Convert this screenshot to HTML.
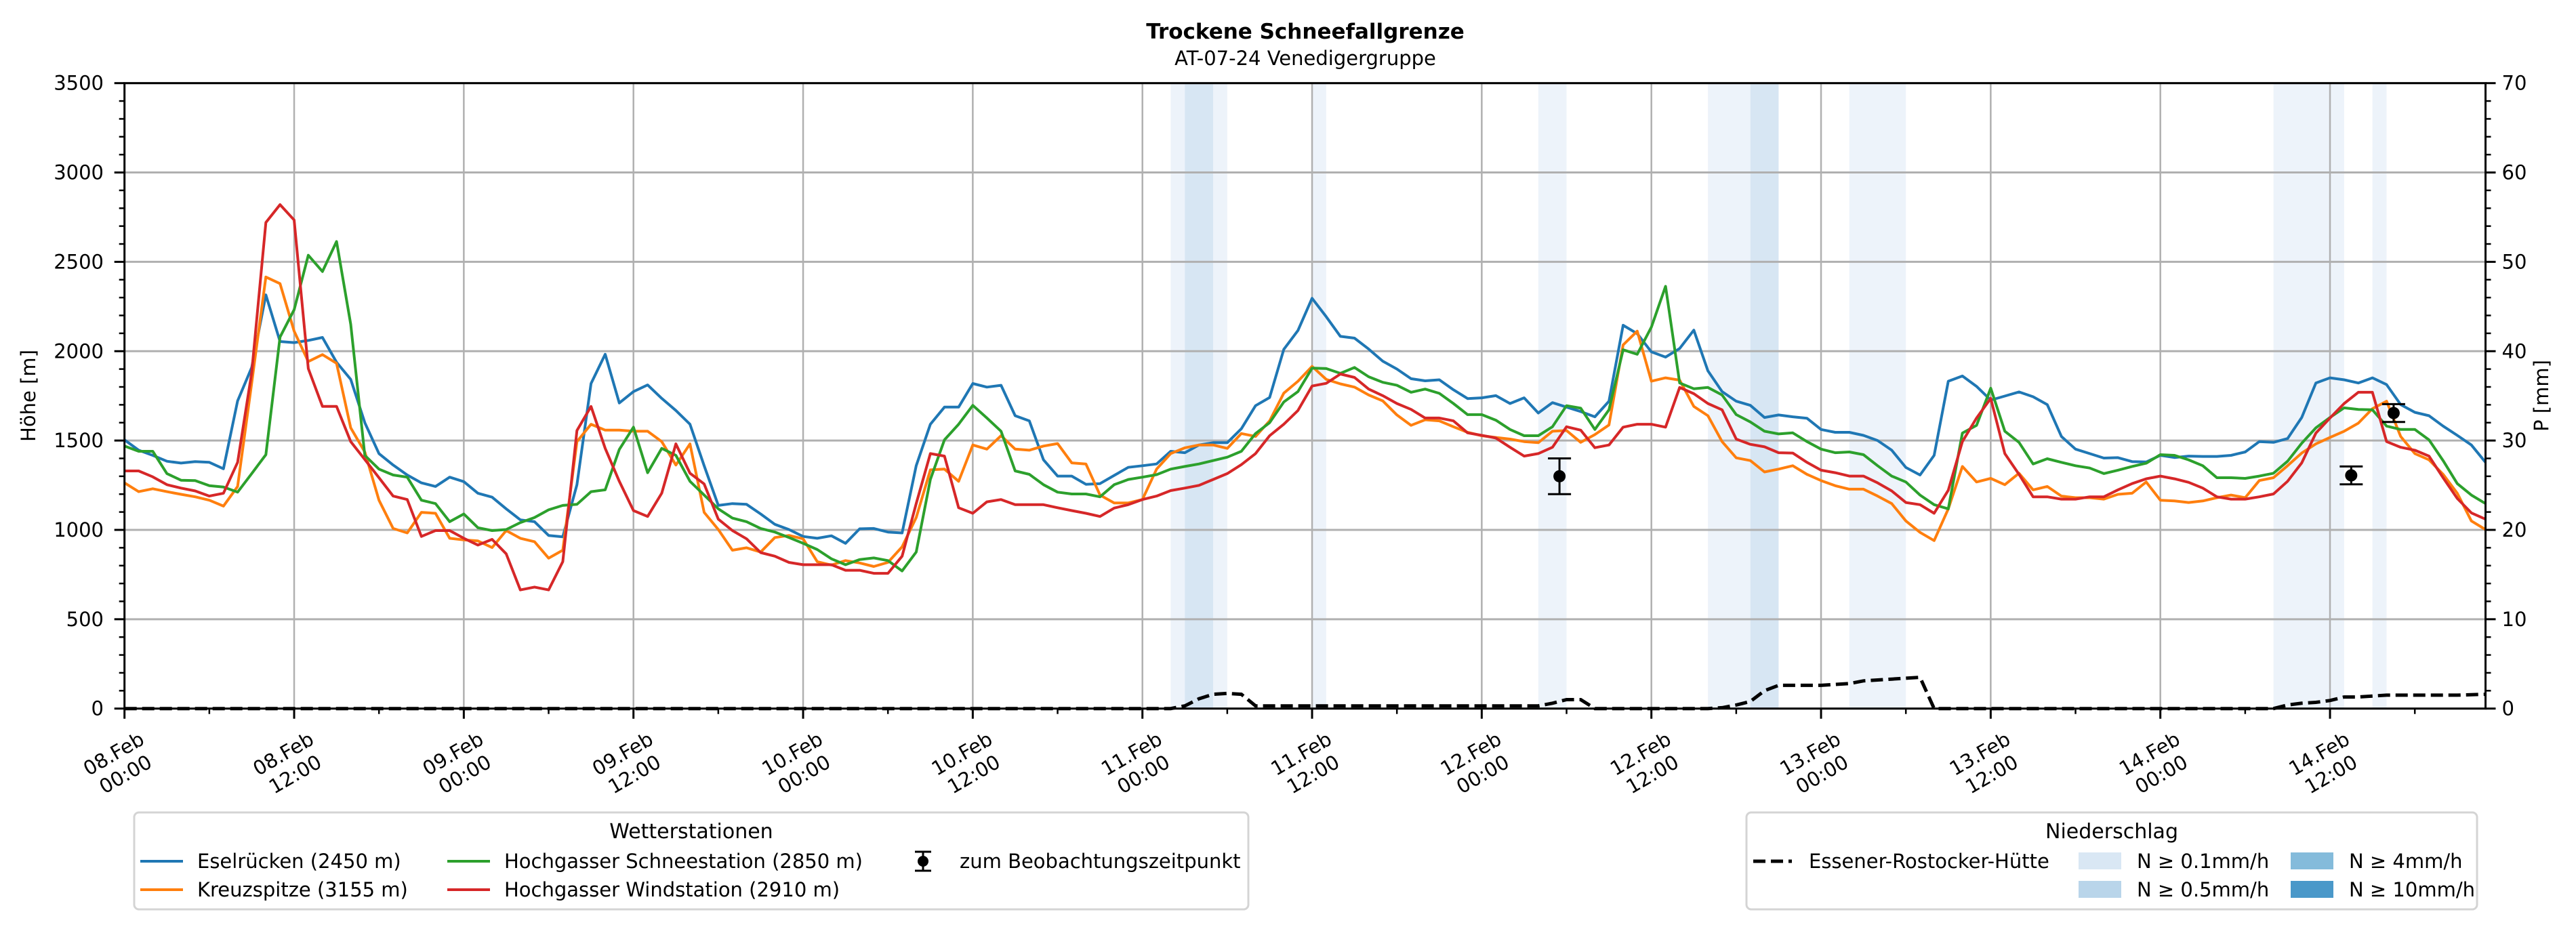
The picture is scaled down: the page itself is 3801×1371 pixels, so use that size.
<!DOCTYPE html>
<html><head><meta charset="utf-8"><style>
html,body{margin:0;padding:0;background:#fff;}
svg{display:block;font-family:"DejaVu Sans","Liberation Sans",sans-serif;}
</style></head><body>
<svg id="chart" xmlns="http://www.w3.org/2000/svg" width="3801" height="1371" viewBox="0 0 3801 1371">
<rect width="3801" height="1371" fill="#fff"/>
<text x="1926" y="57" text-anchor="middle" font-size="31" font-weight="bold">Trockene Schneefallgrenze</text>
<text x="1926" y="96" text-anchor="middle" font-size="29">AT-07-24 Venedigergruppe</text>
<g id="bands"></g>
<g id="grid"></g>
<g id="series"></g>
<g id="obs"></g>
<g id="axes"></g>
<text transform="translate(52,584) rotate(-90)" text-anchor="middle" font-size="29">Höhe [m]</text>
<text transform="translate(3760,584) rotate(-90)" text-anchor="middle" font-size="29">P [mm]</text>

<g>
<rect x="198" y="1199" width="1644" height="143" rx="7" fill="#fff" stroke="#d4d4d4" stroke-width="3"/>
<text x="1020" y="1237" text-anchor="middle" font-size="30">Wetterstationen</text>
<g><line x1="207" y1="1271" x2="270" y2="1271" stroke="#1f77b4" stroke-width="4"/><text x="291" y="1281" font-size="29">Eselrücken (2450 m)</text></g>
<g><line x1="207" y1="1313" x2="270" y2="1313" stroke="#ff7f0e" stroke-width="4"/><text x="291" y="1323" font-size="29">Kreuzspitze (3155 m)</text></g>
<g><line x1="660" y1="1271" x2="723" y2="1271" stroke="#2ca02c" stroke-width="4"/><text x="744" y="1281" font-size="29">Hochgasser Schneestation (2850 m)</text></g>
<g><line x1="660" y1="1313" x2="723" y2="1313" stroke="#d62728" stroke-width="4"/><text x="744" y="1323" font-size="29">Hochgasser Windstation (2910 m)</text></g>
<g><line x1="1362" y1="1257" x2="1362" y2="1285" stroke="#000" stroke-width="3"/><line x1="1350" y1="1257" x2="1374" y2="1257" stroke="#000" stroke-width="3"/><line x1="1350" y1="1285" x2="1374" y2="1285" stroke="#000" stroke-width="3"/><circle cx="1362" cy="1271" r="8"/><text x="1416" y="1281" font-size="29">zum Beobachtungszeitpunkt</text></g>
</g>

<g>
<rect x="2577" y="1199" width="1078" height="143" rx="7" fill="#fff" stroke="#d4d4d4" stroke-width="3"/>
<text x="3116" y="1237" text-anchor="middle" font-size="30">Niederschlag</text>
<g><line x1="2587" y1="1271" x2="2644" y2="1271" stroke="#000" stroke-width="5" stroke-dasharray="18 8"/><text x="2669" y="1281" font-size="29">Essener-Rostocker-Hütte</text></g>
<g><rect x="3067" y="1258" width="63" height="25" fill="#d9e7f4"/><text x="3153" y="1281" font-size="29">N ≥ 0.1mm/h</text></g>
<g><rect x="3067" y="1300" width="63" height="25" fill="#b9d5ea"/><text x="3153" y="1323" font-size="29">N ≥ 0.5mm/h</text></g>
<g><rect x="3380" y="1258" width="63" height="25" fill="#84bbdb"/><text x="3466" y="1281" font-size="29">N ≥ 4mm/h</text></g>
<g><rect x="3380" y="1300" width="63" height="25" fill="#4a98c9"/><text x="3466" y="1323" font-size="29">N ≥ 10mm/h</text></g>
</g>
</svg>
<script>
const eselruecken=[1504,1446,1417,1384,1374,1382,1378,1342,1722,1909,2315,2054,2048,2060,2077,1938,1842,1600,1427,1363,1307,1263,1243,1295,1270,1205,1183,1118,1056,1046,969,961,1253,1819,1983,1710,1774,1811,1736,1668,1591,1359,1137,1147,1143,1089,1031,1002,963,953,967,925,1006,1008,988,983,1359,1591,1687,1687,1819,1799,1809,1639,1610,1392,1301,1301,1255,1259,1305,1350,1359,1369,1440,1432,1475,1488,1488,1566,1695,1741,2010,2116,2296,2193,2083,2073,2012,1944,1900,1846,1834,1840,1784,1735,1739,1751,1707,1739,1654,1712,1687,1662,1633,1720,2145,2098,1996,1967,2015,2118,1890,1774,1720,1697,1629,1643,1633,1625,1562,1546,1546,1529,1500,1446,1349,1307,1417,1832,1861,1803,1726,1749,1772,1745,1701,1523,1452,1427,1402,1404,1382,1380,1417,1405,1413,1411,1411,1417,1436,1494,1490,1511,1629,1822,1851,1840,1822,1851,1813,1701,1658,1639,1581,1529,1475,1378];
const kreuzspitze=[1263,1214,1230,1214,1199,1185,1166,1133,1243,1822,2415,2378,2112,1942,1981,1932,1571,1436,1166,1008,983,1098,1093,953,944,938,901,996,953,934,842,886,1494,1591,1558,1558,1552,1552,1494,1363,1481,1098,1002,886,900,876,957,969,950,822,803,828,815,795,818,905,1069,1336,1340,1272,1475,1452,1527,1452,1446,1469,1483,1375,1369,1195,1151,1151,1170,1340,1427,1459,1475,1475,1456,1539,1523,1610,1765,1832,1915,1842,1817,1799,1755,1722,1643,1585,1616,1610,1577,1546,1527,1517,1508,1494,1488,1552,1556,1490,1533,1587,2035,2112,1832,1851,1838,1691,1639,1494,1403,1388,1324,1340,1359,1311,1276,1247,1228,1228,1189,1147,1050,986,940,1118,1355,1268,1288,1253,1317,1224,1243,1189,1180,1180,1172,1199,1205,1268,1166,1162,1153,1162,1180,1195,1180,1276,1292,1359,1430,1481,1517,1552,1597,1678,1720,1523,1427,1392,1311,1205,1050,1002];
const hgSchnee=[1469,1440,1440,1315,1278,1276,1247,1240,1211,1315,1421,2079,2232,2537,2446,2614,2151,1417,1340,1307,1295,1166,1147,1046,1089,1012,996,1002,1041,1069,1112,1137,1143,1214,1224,1450,1575,1320,1456,1417,1272,1195,1118,1066,1046,1008,988,957,925,890,838,805,834,843,828,770,876,1282,1504,1591,1697,1626,1552,1330,1311,1253,1211,1201,1201,1185,1253,1282,1295,1309,1340,1355,1369,1388,1407,1440,1539,1600,1716,1774,1905,1903,1876,1909,1857,1826,1809,1770,1788,1764,1707,1645,1645,1614,1562,1527,1527,1577,1695,1681,1562,1672,2008,1983,2135,2363,1822,1790,1797,1755,1645,1604,1552,1537,1543,1494,1452,1432,1436,1421,1359,1301,1268,1195,1141,1118,1542,1585,1793,1552,1490,1369,1398,1378,1359,1346,1315,1334,1355,1373,1421,1417,1392,1359,1292,1292,1288,1301,1317,1384,1485,1571,1629,1683,1674,1672,1581,1562,1562,1504,1388,1259,1195,1147];
const hgWind=[1330,1330,1297,1253,1234,1218,1189,1205,1378,1880,2720,2820,2734,1903,1691,1691,1494,1394,1292,1189,1170,963,996,996,953,915,947,866,664,680,664,822,1556,1691,1456,1272,1108,1075,1205,1481,1317,1257,1060,996,950,873,853,818,805,805,805,774,774,757,757,853,1147,1427,1413,1124,1093,1157,1170,1141,1141,1141,1124,1108,1093,1075,1122,1141,1170,1189,1220,1234,1249,1282,1315,1365,1427,1527,1591,1668,1805,1820,1872,1853,1788,1751,1707,1674,1626,1626,1610,1543,1529,1514,1462,1413,1427,1462,1577,1558,1460,1475,1575,1591,1591,1575,1797,1762,1707,1672,1508,1479,1465,1432,1430,1378,1334,1320,1301,1301,1263,1218,1153,1141,1093,1222,1494,1626,1736,1427,1311,1185,1185,1172,1172,1185,1185,1224,1259,1286,1301,1286,1266,1234,1185,1172,1172,1185,1201,1272,1375,1542,1626,1707,1770,1770,1494,1462,1446,1413,1292,1176,1095,1060];
const precipHours=[0,74,75,76,77,78,79,80,99,100,101,102,103,104,112,113,114,115,116,117,118,119,120,121,122,123,124,125,126,127,128,152,153,154,155,156,157,158,159,160,165,167];
const precipMm=[0,0,0.3,1.1,1.6,1.7,1.6,0.3,0.3,0.3,0.6,1.0,1.0,0,0,0.1,0.4,0.8,2.0,2.6,2.6,2.6,2.6,2.7,2.8,3.1,3.2,3.3,3.4,3.5,0,0,0.4,0.6,0.7,0.9,1.3,1.3,1.4,1.5,1.5,1.6];
const bandStart=[74,75,77,84,100,112,115,122,152,159];
const bandEnd=[75,77,78,85,102,115,117,126,157,160];
const bandLevel=[1,2,1,1,1,1,2,1,1,1];
const obsHours=[101.5,157.5,160.5];
const obsValues=[1300,1305,1654];
const obsErrors=[100,50,50];
const yTicks=[0,500,1000,1500,2000,2500,3000,3500];
const y2Ticks=[0,10,20,30,40,50,60,70];
const xTickDays=["08","08","09","09","10","10","11","11","12","12","13","13","14","14"];
const xTickTimes=["00:00","12:00","00:00","12:00","00:00","12:00","00:00","12:00","00:00","12:00","00:00","12:00","00:00","12:00"];

const NS="http://www.w3.org/2000/svg";
const L=183.7,R=3667.5,T=122.7,B=1045.7,HMAX=167;
const xs=h=>L+h*(R-L)/HMAX;
const ys=v=>B-v*(B-T)/3500;
const yp=p=>B-p*(B-T)/70;
function mk(tag,attrs,parent){const e=document.createElementNS(NS,tag);for(const k in attrs)e.setAttribute(k,attrs[k]);parent.appendChild(e);return e;}
const gB=document.getElementById('bands'),gG=document.getElementById('grid'),gS=document.getElementById('series'),gO=document.getElementById('obs'),gA=document.getElementById('axes');

for(let i=0;i<bandStart.length;i++){
  const r=mk('rect',{x:xs(bandStart[i]),y:T,width:xs(bandEnd[i])-xs(bandStart[i]),height:B-T,fill:bandLevel[i]===2?'#d7e6f3':'#edf3fa'},gB);
  
  
}
yTicks.forEach(v=>{
  const g=mk('line',{x1:L,x2:R,y1:ys(v),y2:ys(v),stroke:'#b0b0b0','stroke-width':3},gG);
  
  
});
xTickDays.forEach((d,i)=>{
  const g=mk('line',{x1:xs(i*12),x2:xs(i*12),y1:T,y2:B,stroke:'#b0b0b0','stroke-width':2.5},gG);
  
  
});

const seriesList=[[eselruecken,'#1f77b4','line-eselruecken'],[kreuzspitze,'#ff7f0e','line-kreuzspitze'],[hgSchnee,'#2ca02c','line-hochgasser-schnee'],[hgWind,'#d62728','line-hochgasser-wind']];
seriesList.forEach(s=>{
  const pts=s[0].map((v,h)=>xs(h).toFixed(1)+','+ys(v).toFixed(1)).join(' ');
  const p=mk('polyline',{points:pts,fill:'none',stroke:s[1],'stroke-width':4,'stroke-linejoin':'round'},gS);
  
  
});
const pp=precipHours.map((h,i)=>xs(h).toFixed(1)+','+yp(precipMm[i]).toFixed(1)).join(' ');
const pl=mk('polyline',{points:pp,fill:'none',stroke:'#000','stroke-width':5,'stroke-dasharray':'18 8'},gS);



obsHours.forEach((h,i)=>{
  const x=xs(h),y=ys(obsValues[i]),y1=ys(obsValues[i]+obsErrors[i]),y2=ys(obsValues[i]-obsErrors[i]);
  const g=mk('g',{},gO);
  
  
  mk('line',{x1:x,x2:x,y1:y1,y2:y2,stroke:'#000','stroke-width':3},g);
  mk('line',{x1:x-17,x2:x+17,y1:y1,y2:y1,stroke:'#000','stroke-width':3},g);
  mk('line',{x1:x-17,x2:x+17,y1:y2,y2:y2,stroke:'#000','stroke-width':3},g);
  mk('circle',{cx:x,cy:y,r:9,fill:'#000'},g);
});

const sp=mk('rect',{x:L,y:T,width:R-L,height:B-T,fill:'none',stroke:'#000','stroke-width':3},gA);


for(let v=0;v<=3500;v+=100){const maj=v%500===0;mk('line',{x1:L,x2:L-(maj?15:8),y1:ys(v),y2:ys(v),stroke:'#000','stroke-width':maj?3:2.5},gA);}
yTicks.forEach(v=>{
  const t=mk('text',{x:153,y:ys(v)+10,'text-anchor':'end','font-size':29},gA);
  t.textContent=v;
  
  
});
for(let p=0;p<=70;p+=2){const maj=p%10===0;mk('line',{x1:R,x2:R+(maj?15:8),y1:yp(p),y2:yp(p),stroke:'#000','stroke-width':maj?3:2.5},gA);}
y2Ticks.forEach(p=>{
  const t=mk('text',{x:R+24,y:yp(p)+10,'text-anchor':'start','font-size':29},gA);
  t.textContent=p;
  
  
});
for(let h=0;h<=HMAX;h+=6){const maj=h%12===0;mk('line',{x1:xs(h),x2:xs(h),y1:B,y2:B+(maj?15:8),stroke:'#000','stroke-width':maj?3:2.5},gA);}
xTickDays.forEach((d,i)=>{
  const cx=xs(i*12)-7,cy=1128;
  const t=mk('text',{transform:`translate(${cx},${cy}) rotate(-30)`,'text-anchor':'middle','font-size':29},gA);
  
  
  const a=mk('tspan',{x:0,y:-8},t);a.textContent=d+'.Feb';
  const b=mk('tspan',{x:0,y:27},t);b.textContent=xTickTimes[i];
});
</script>
</body></html>
